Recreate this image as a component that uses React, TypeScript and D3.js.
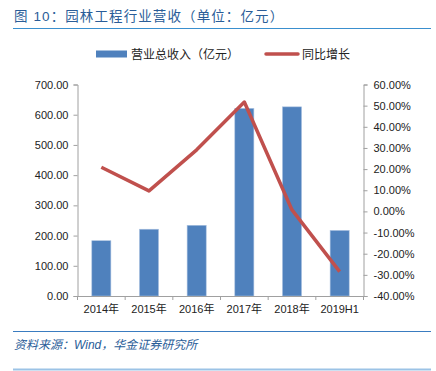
import React, { useEffect, useRef } from 'react';
import * as d3 from 'd3';

const categories = ['2014年', '2015年', '2016年', '2017年', '2018年', '2019H1'];
const revenue = [183, 221, 234, 621, 626, 217];
const growth = [20.9, 9.7, 29.1, 51.7, 0.7, -28.5];
const leftTicks = [0, 100, 200, 300, 400, 500, 600, 700];
const rightTicks = [-40, -30, -20, -10, 0, 10, 20, 30, 40, 50, 60];

const W = 436;
const H = 371;
const FONT = '"Liberation Sans", "Noto Sans CJK SC", sans-serif';

const App: React.FC = () => {
  const svgRef = useRef<SVGSVGElement>(null);

  useEffect(() => {
    if (!svgRef.current) return;
    const svg = d3.select(svgRef.current);
    svg.selectAll('*').remove();

    const left = 77.5;
    const right = 363.5;
    const top = 84.5;
    const bottom = 296;

    const x = d3.scaleBand<string>().domain(categories).range([left, right]).paddingInner(0.6).paddingOuter(0.3);
    const xBand = d3.scaleBand<string>().domain(categories).range([left, right]);
    const yL = d3.scaleLinear().domain([0, 700]).range([bottom, top]);
    const yR = d3.scaleLinear().domain([-40, 60]).range([bottom, top]);

    // Title
    svg.append('text')
      .attr('x', 14).attr('y', 21)
      .attr('fill', '#2a5d98')
      .attr('font-family', FONT)
      .attr('font-size', 13.5)
      .attr('letter-spacing', 1.1)
      .text('图 10：园林工程行业营收（单位：亿元）');
    svg.append('line')
      .attr('x1', 13).attr('x2', 431).attr('y1', 28.5).attr('y2', 28.5)
      .attr('stroke', '#3a8fce').attr('stroke-width', 1);

    // Legend
    svg.append('rect').attr('x', 96).attr('y', 50.5).attr('width', 31).attr('height', 7).attr('fill', '#4f81bd');
    svg.append('text').attr('x', 131).attr('y', 58.5).attr('font-family', FONT).attr('font-size', 12).attr('fill', '#222')
      .text('营业总收入（亿元）');
    svg.append('line').attr('x1', 266).attr('x2', 298).attr('y1', 54).attr('y2', 54)
      .attr('stroke', '#c0504d').attr('stroke-width', 3.5).attr('stroke-linecap', 'round');
    svg.append('text').attr('x', 302).attr('y', 58.5).attr('font-family', FONT).attr('font-size', 12).attr('fill', '#222')
      .text('同比增长');

    // Bars
    svg.selectAll('.bar')
      .data(revenue)
      .enter().append('rect')
      .attr('x', (_, i) => x(categories[i])!)
      .attr('y', d => yL(d))
      .attr('width', x.bandwidth())
      .attr('height', d => bottom - yL(d))
      .attr('fill', '#4f81bd')
      .attr('stroke', '#a9c1e0')
      .attr('stroke-width', 0.6);

    // Axes
    const axisColor = '#a0a0a0';
    const gL = svg.append('g').attr('transform', `translate(${left},0)`)
      .call(d3.axisLeft(yL).tickValues(leftTicks).tickSize(4).tickPadding(5).tickFormat(d => (+d).toFixed(2)));
    const gR = svg.append('g').attr('transform', `translate(${right},0)`)
      .call(d3.axisRight(yR).tickValues(rightTicks).tickSize(4).tickPadding(6).tickFormat(d => (+d).toFixed(2) + '%'));
    const gX = svg.append('g').attr('transform', `translate(0,${bottom})`)
      .call(d3.axisBottom(xBand).tickSize(0).tickPadding(9));
    // boundary ticks on x axis
    svg.selectAll('.xtick')
      .data(d3.range(categories.length + 1))
      .enter().append('line')
      .attr('x1', i => left + i * xBand.step()).attr('x2', i => left + i * xBand.step())
      .attr('y1', bottom).attr('y2', bottom + 4)
      .attr('stroke', axisColor);

    [gL, gR, gX].forEach(g => {
      g.select('.domain').attr('stroke', axisColor);
      g.selectAll('line').attr('stroke', axisColor);
      g.selectAll('text').attr('fill', '#222').attr('font-family', FONT).attr('font-size', 11);
    });

    // Growth line
    const line = d3.line<number>()
      .x((_, i) => xBand(categories[i])! + xBand.bandwidth() / 2)
      .y(d => yR(d));
    svg.append('path')
      .datum(growth)
      .attr('d', line)
      .attr('fill', 'none')
      .attr('stroke', '#c0504d')
      .attr('stroke-width', 3.5)
      .attr('stroke-linejoin', 'round');

    // Footer
    svg.append('line').attr('x1', 13).attr('x2', 431).attr('y1', 331.5).attr('y2', 331.5)
      .attr('stroke', '#3a7cc0').attr('stroke-width', 1);
    svg.append('text').attr('x', 14).attr('y', 349)
      .attr('fill', '#2a5d98').attr('font-family', FONT).attr('font-size', 12).attr('font-style', 'italic')
      .text('资料来源：Wind，华金证券研究所');
    svg.append('line').attr('x1', 13).attr('x2', 431).attr('y1', 369.5).attr('y2', 369.5)
      .attr('stroke', '#9cc3e6').attr('stroke-width', 2);
  }, []);

  return (
    <svg ref={svgRef} width={W} height={H} style={{ position: 'absolute', left: 0, top: 0, background: '#fff' }} />
  );
};

export default App;
